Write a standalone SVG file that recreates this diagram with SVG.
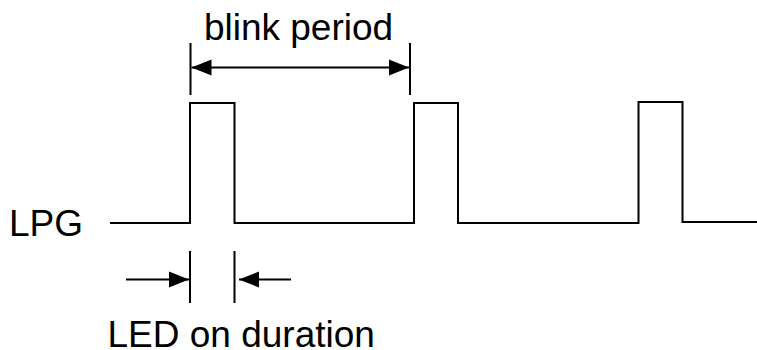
<svg xmlns="http://www.w3.org/2000/svg" width="757" height="350" viewBox="0 0 757 350">
  <style>
    .ln { fill: none; stroke: #000; stroke-width: 2; }
    .lbl { font-family: "Liberation Sans", Arial, sans-serif; font-size: 37px; fill: #000; }
  </style>
  <defs>
    <marker id="head" markerUnits="userSpaceOnUse" markerWidth="22" markerHeight="18" refX="20" refY="9" orient="auto" viewBox="0 0 22 18">
      <path d="M0,1 L20,9 L0,17 Z" fill="#000"/>
    </marker>
  </defs>
  <rect width="757" height="350" fill="#fff"/>

  <!-- signal label -->
  <g id="lpg-label">
    <text class="lbl" x="9" y="236">LPG</text>
  </g>

  <!-- pulse train -->
  <g id="waveform">
    <path class="ln" d="M110,223 H190 V103 H234.5 V223 H414 V103 H458 V223 H638.5 V102 H682.5 V222 H757"/>
  </g>

  <!-- period dimension -->
  <g id="blink-period">
    <text class="lbl" x="298.5" y="40" text-anchor="middle">blink period</text>
    <line class="ln" x1="190.5" y1="43" x2="190.5" y2="95"/>
    <line class="ln" x1="410" y1="43" x2="410" y2="95"/>
    <line class="ln" x1="300" y1="67.5" x2="191.5" y2="67.5" marker-end="url(#head)"/>
    <line class="ln" x1="300" y1="67.5" x2="409" y2="67.5" marker-end="url(#head)"/>
  </g>

  <!-- on-time dimension -->
  <g id="led-on-duration">
    <line class="ln" x1="190" y1="251" x2="190" y2="303"/>
    <line class="ln" x1="234.5" y1="251" x2="234.5" y2="303"/>
    <line class="ln" x1="126" y1="279.5" x2="189" y2="279.5" marker-end="url(#head)"/>
    <line class="ln" x1="291" y1="279.5" x2="239" y2="279.5" marker-end="url(#head)"/>
    <text class="lbl" x="107.5" y="347">LED on duration</text>
  </g>
</svg>
